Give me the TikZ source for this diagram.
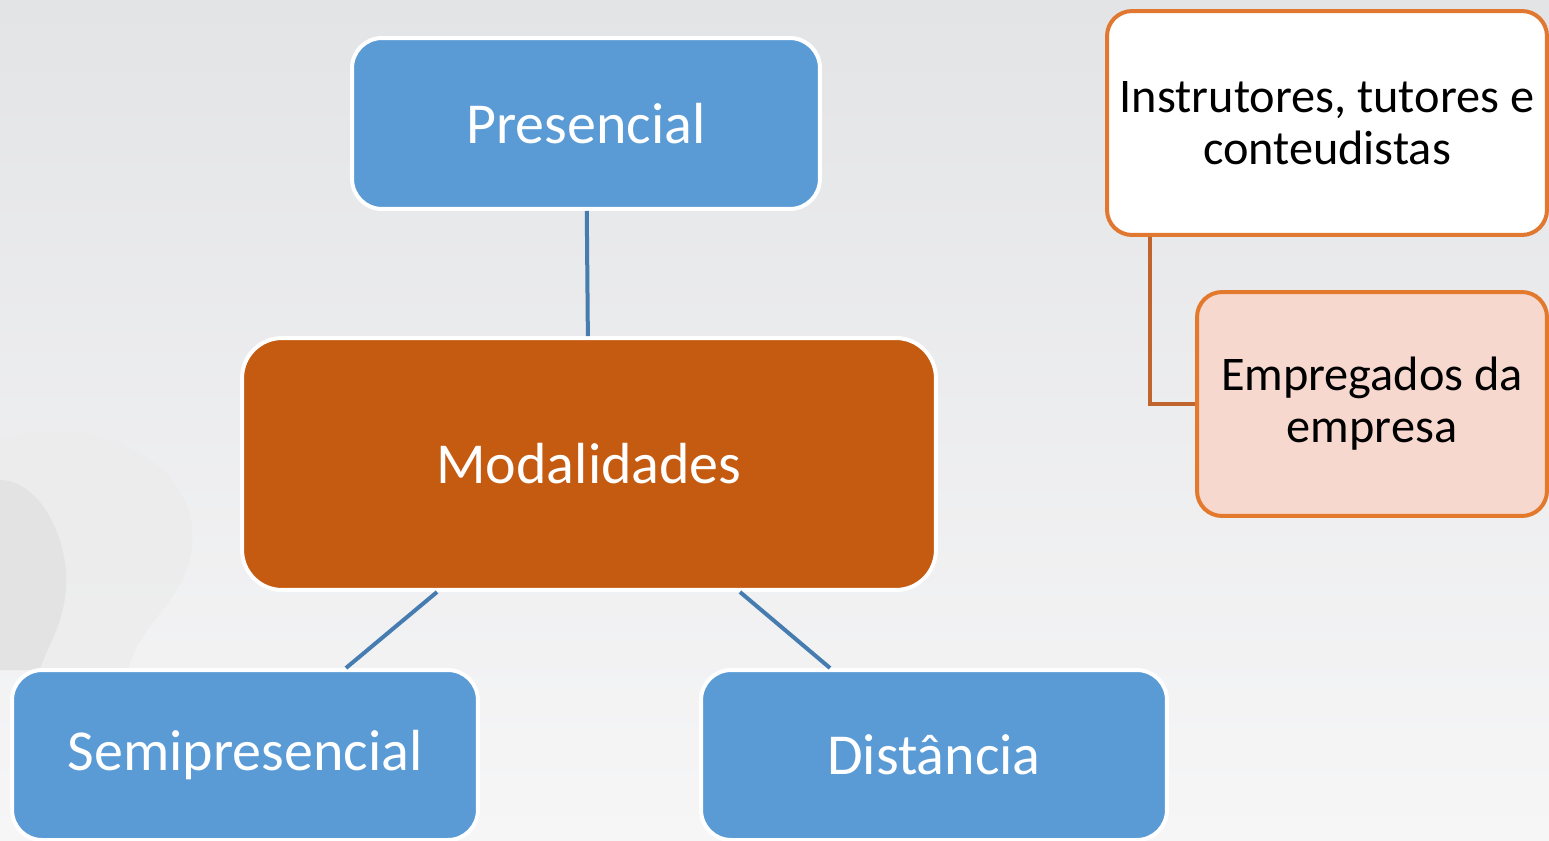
\documentclass[tikz,border=0pt]{standalone}
\usepackage{fontspec}
\setmainfont{Carlito}
\usepackage{xcolor}
\definecolor{ColBlue}{RGB}{91,155,213}
\definecolor{ColLink}{RGB}{70,124,176}
\definecolor{ColMod}{RGB}{197,90,17}
\definecolor{ColOr}{RGB}{224,120,50}
\definecolor{ColOrLink}{RGB}{192,101,46}
\definecolor{ColPink}{RGB}{247,216,206}
\definecolor{BgTop}{RGB}{227,228,230}
\definecolor{BgBot}{RGB}{246,246,247}
\usepackage{tikz}
\usetikzlibrary{calc}
\tikzstyle{Box}=[rectangle,rounded corners=0.6cm,draw=white,line width=0.08cm,
fill=ColBlue,text=white,font=\fontsize{33}{40}\selectfont]
\tikzstyle{BoxMod}=[Box,fill=ColMod,rounded corners=0.8cm]
\tikzstyle{BoxSide}=[rectangle,rounded corners=0.5cm,draw=ColOr,line width=0.08cm,
fill=white,text=black,align=center,font=\fontsize{27.5}{29.6}\selectfont]
\tikzstyle{Edge}=[draw=ColLink,line width=0.08cm]
\tikzstyle{EdgeSide}=[draw=ColOrLink,line width=0.08cm]

\begin{document}
\begin{tikzpicture}[x=.02cm,y=-.02cm]
        \useasboundingbox(0,0)rectangle(1549,840);
        % background
        \fill[top color=BgTop,bottom color=BgBot](0,0)rectangle(1549,840);
        \fill[gray!15,opacity=.8](0,440).. controls (90,410) and (200,460) .. (192,545)
            .. controls (188,600) and (140,620) .. (128,670)--(0,670)--cycle;
        \fill[gray!24,opacity=.7](0,480).. controls (40,480) and (70,540) .. (66,590)
            .. controls (62,630) and (45,650) .. (40,670)--(0,670)--cycle;
        % main tree
        \node[Box,minimum width=9.36cm,minimum height=3.42cm](pres)at(586,123.5){Presencial};
        \node[BoxMod,minimum width=13.88cm,minimum height=5.04cm](mod)at(589,464){Modalidades};
        \node[Box,minimum width=9.32cm,minimum height=3.4cm](semi)at(245,755){Semipresencial};
        \node[Box,minimum width=9.32cm,minimum height=3.4cm](dist)at(934,755){Distância};
        \draw[Edge](pres)--(mod);
        \draw[Edge]([xshift=-3.04cm]mod.south)--([xshift=2.02cm]semi.north);
        \draw[Edge]([xshift=3.02cm]mod.south)--([xshift=-2.08cm]dist.north);
        % side list
        \node[BoxSide,minimum width=8.8cm,minimum height=4.48cm](instr)at(1327,123)
            {Instrutores, tutores e\\conteudistas};
        \node[BoxSide,fill=ColPink,draw=ColOr!90!orange,minimum width=7cm,minimum height=4.48cm](empr)at(1372,404)
            {Empregados da\\empresa};
        \draw[EdgeSide]([xshift=0.9cm]instr.south west)|-(empr.west);
    \end{tikzpicture}
\end{document}
